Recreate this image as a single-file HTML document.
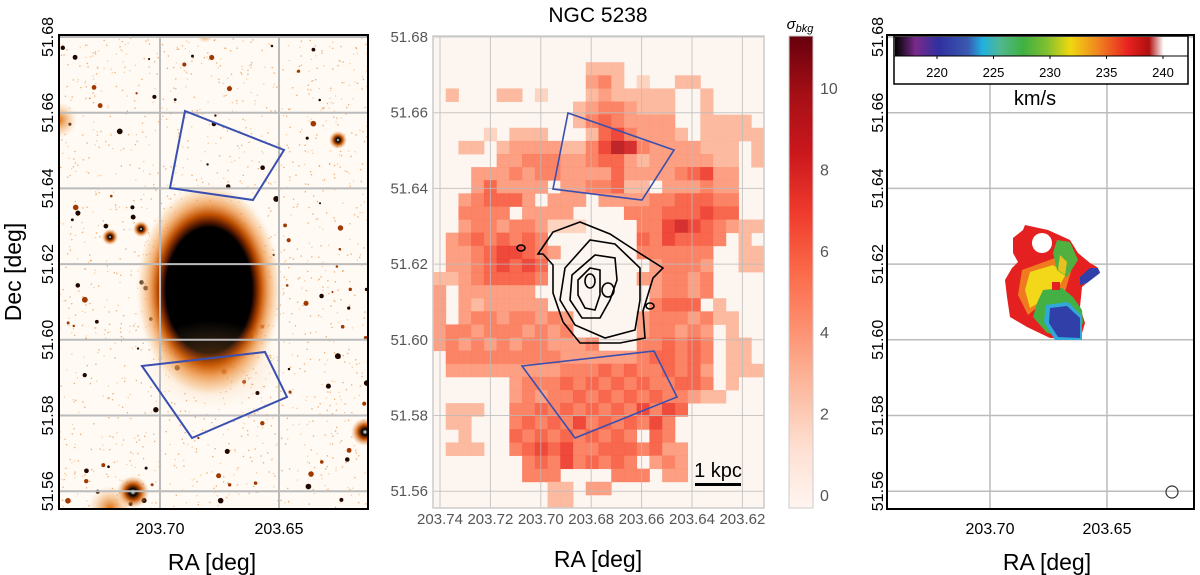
<!DOCTYPE html>
<html><head><meta charset="utf-8"><style>
html,body{margin:0;padding:0;background:#fff;}
svg{display:block;font-family:"Liberation Sans",sans-serif;}
</style></head><body>
<svg id="fig" width="1200" height="575" viewBox="0 0 1200 575" xmlns="http://www.w3.org/2000/svg">
<defs>
<radialGradient id="halo" cx="0.5" cy="0.5" r="0.5">
<stop offset="0" stop-color="#000"/><stop offset="0.58" stop-color="#000"/><stop offset="0.63" stop-color="#5a1a00"/><stop offset="0.7" stop-color="#c05000"/><stop offset="0.8" stop-color="#ec9040" stop-opacity="0.75"/><stop offset="0.92" stop-color="#f8c890" stop-opacity="0.4"/><stop offset="1" stop-color="#fff" stop-opacity="0"/>
</radialGradient>
<radialGradient id="starg"><stop offset="0" stop-color="#fff"/><stop offset="0.2" stop-color="#000"/><stop offset="0.5" stop-color="#c05000"/><stop offset="1" stop-color="#f0a050" stop-opacity="0"/></radialGradient>
<radialGradient id="blobg"><stop offset="0" stop-color="#e07010"/><stop offset="1" stop-color="#f8c080" stop-opacity="0"/></radialGradient>
<linearGradient id="redsbar" x1="0" y1="1" x2="0" y2="0">
<stop offset="0" stop-color="#fff5f0"/><stop offset="0.125" stop-color="#fee0d2"/><stop offset="0.25" stop-color="#fcbba1"/><stop offset="0.375" stop-color="#fc9272"/><stop offset="0.5" stop-color="#fb6a4a"/><stop offset="0.625" stop-color="#ef3b2c"/><stop offset="0.75" stop-color="#cb181d"/><stop offset="0.875" stop-color="#a50f15"/><stop offset="1" stop-color="#67000d"/>
</linearGradient>
<linearGradient id="velbar" x1="0" y1="0" x2="1" y2="0">
<stop offset="0" stop-color="#000"/><stop offset="0.07" stop-color="#7a2a8a"/><stop offset="0.15" stop-color="#3030a0"/><stop offset="0.25" stop-color="#3a5ab0"/><stop offset="0.3" stop-color="#20b0e0"/><stop offset="0.36" stop-color="#50b890"/><stop offset="0.44" stop-color="#40b040"/><stop offset="0.52" stop-color="#80c030"/><stop offset="0.6" stop-color="#f0d810"/><stop offset="0.7" stop-color="#f08020"/><stop offset="0.8" stop-color="#e82020"/><stop offset="0.87" stop-color="#b01010"/><stop offset="0.92" stop-color="#fff"/><stop offset="1" stop-color="#fff"/>
</linearGradient>
<clipPath id="clip1"><rect x="59" y="35" width="309" height="474"/></clipPath>
</defs>

<!-- PANEL 1 -->
<g id="p1">
<rect x="59" y="35" width="309" height="474" fill="#fffaf4"/>
<g id="speckle" clip-path="url(#clip1)"></g>
<g clip-path="url(#clip1)">
<ellipse cx="209" cy="290" rx="74" ry="108" fill="url(#halo)"/>
<ellipse cx="212" cy="365" rx="70" ry="45" fill="url(#blobg)" opacity="0.35"/>
<circle cx="59" cy="120" r="18" fill="url(#blobg)"/>
<circle cx="133" cy="492" r="16" fill="url(#starg)"/>
<circle cx="365" cy="432" r="14" fill="url(#starg)"/>
<circle cx="110" cy="508" r="22" fill="url(#blobg)"/>
<circle cx="110" cy="237" r="8" fill="url(#starg)"/>
<circle cx="141" cy="229" r="8" fill="url(#starg)"/>
<circle cx="338" cy="140" r="9" fill="url(#starg)"/>
<circle cx="205" cy="35" r="8" fill="url(#blobg)"/>
</g>
<g id="grid1"></g>
<polygon points="185,111 284,150 253,200 170,188" fill="none" stroke="#3a4fb0" stroke-width="2"/>
<polygon points="142,366 265,352 287,397 192,438" fill="none" stroke="#3a4fb0" stroke-width="2"/>
<rect x="59" y="35" width="309" height="474" fill="none" stroke="#000" stroke-width="2"/>
<g id="ticks1"></g>
<text x="212" y="570" font-size="23" text-anchor="middle">RA [deg]</text>
<text transform="translate(21,272) rotate(-90)" font-size="23" text-anchor="middle">Dec [deg]</text>
</g>

<!-- PANEL 2 -->
<g id="p2">
<text x="598" y="22" font-size="21" text-anchor="middle">NGC 5238</text>
<rect x="433" y="36" width="331" height="472" fill="#fdf5f0"/>
<g id="cells"></g>
<g id="grid2"></g>
<g fill="none" stroke="#000" stroke-width="1.6">
<path d="M538,254 L553,232 L580,222 L610,234 L633,249 L663,268 L653,278 L643,311 L645,338 L620,343 L580,343 L563,322 L553,293 L553,265 L543,254 Z"/>
<path d="M565,268 L590,240 L615,244 L640,268 L640,300 L635,330 L605,338 L575,325 L560,300 Z"/>
<path d="M572,275 L595,255 L615,258 L617,280 L610,300 L600,318 L582,318 L570,300 Z"/>
<path d="M578,280 L590,268 L600,270 L600,295 L595,310 L585,308 L578,295 Z"/>
<ellipse cx="590" cy="281" rx="5" ry="7"/>
<ellipse cx="608" cy="290" rx="6" ry="7"/>
<ellipse cx="650" cy="306" rx="4" ry="3"/>
<ellipse cx="521" cy="248" rx="4" ry="3"/>
</g>
<polygon points="568,113 674,150 642,200 553,189" fill="none" stroke="#3a4fb0" stroke-width="1.6"/>
<polygon points="522,366 654,351 677,397 575,438" fill="none" stroke="#3a4fb0" stroke-width="1.6"/>
<text x="718" y="477" font-size="20" text-anchor="middle">1 kpc</text>
<rect x="695" y="483" width="46" height="3" fill="#000"/>
<rect x="433" y="36" width="331" height="472" fill="none" stroke="#ccc" stroke-width="1.5"/>
<g id="ticks2"></g>
<text x="598" y="567" font-size="23" text-anchor="middle">RA [deg]</text>
<rect x="789" y="36" width="24" height="472" fill="url(#redsbar)" stroke="#ccc"/>
<g id="cbticks"></g>
<text x="800" y="29" font-size="15" font-style="italic" text-anchor="middle">σ<tspan font-size="11" dy="3">bkg</tspan></text>
</g>

<!-- PANEL 3 -->
<g id="p3">
<g id="grid3"></g>
<g>
<polygon fill="#e42020" points="1025,225 1048,230 1070,240 1078,253 1090,263 1097,267 1100,272 1090,280 1082,287 1080,307 1085,323 1080,340 1050,338 1027,327 1010,317 1007,297 1005,280 1012,268 1018,262 1013,253 1013,238 1023,230"/>
<polygon fill="#f07a20" points="1022,270 1055,258 1072,268 1065,292 1040,305 1028,315 1018,295"/>
<polygon fill="#f2d818" points="1030,272 1053,265 1066,274 1057,290 1040,302 1030,308 1025,290"/>
<polygon fill="#44b044" points="1043,290 1062,288 1073,297 1082,310 1083,323 1073,338 1047,333 1033,317 1037,303"/>
<polygon fill="#50b040" points="1057,240 1070,242 1078,260 1067,277 1057,270 1053,253"/>
<polygon fill="#e8c020" points="1060,255 1067,262 1065,275 1058,270"/>
<polygon fill="#30a8d8" points="1046,305 1068,302 1082,316 1082,340 1055,340 1044,322"/>
<polygon fill="#3040a8" points="1050,308 1067,306 1080,318 1080,338 1058,337 1049,323"/>
<polygon fill="#3040a8" points="1080,277 1090,268 1098,268 1100,273 1087,283 1080,285"/>
<circle cx="1042" cy="243" r="10" fill="#fff"/>
<rect x="1052" y="282" width="8" height="8" fill="#e42020"/>
</g>
<rect x="894" y="36" width="294" height="48" fill="#fff" stroke="#000" stroke-width="1.5"/>
<rect x="895" y="37" width="292" height="19" fill="url(#velbar)"/>
<line x1="894" y1="56" x2="1188" y2="56" stroke="#000" stroke-width="1"/>
<g id="vticks"></g>
<text x="1035" y="105" font-size="20" text-anchor="middle">km/s</text>
<circle cx="1172" cy="492" r="6" fill="none" stroke="#333" stroke-width="1.2"/>
<rect x="887" y="35" width="307" height="474" fill="none" stroke="#000" stroke-width="2"/>
<g id="ticks3"></g>
<text x="1047" y="570" font-size="23" text-anchor="middle">RA [deg]</text>
</g>
</svg>
<script>
const NS="http://www.w3.org/2000/svg";
// ---- data ----
const decTicks=[51.68,51.66,51.64,51.62,51.60,51.58,51.56];
const decLabels=["51.68","51.66","51.64","51.62","51.60","51.58","51.56"];
const raTicks1=[203.70,203.65];
const raLabels1=["203.70","203.65"];
const raTicks2=[203.74,203.72,203.70,203.68,203.66,203.64,203.62];
const raLabels2=["203.74","203.72","203.70","203.68","203.66","203.64","203.62"];
const sigmaTicks=[0,2,4,6,8,10];
const sigmaLabels=["0","2","4","6","8","10"];
const velTicks=[220,225,230,235,240];
const velLabels=["220","225","230","235","240"];
const sigmaRows=[
"00000000000000000000000000",
"00000000000000000000000000",
"00000000000033300000000000",
"00000000000045302003300000",
"03000330200034333330030000",
"00000000000345543330030000",
"00000000000356544440033330",
"00002033300036754443033333",
"00330344443357985444433303",
"00000445554456643444443303",
"00044454554444644445674400",
"00046444404455633044454400",
"00456664044404444556665500",
"00555504444000055566676600",
"00455455422200005578765433",
"04565656500000006576665030",
"04456776540000005555550033",
"04456767600000000455540033",
"33456666500000004455450000",
"40444444000000000455450000",
"40434444400000000566603000",
"40455455454000004555453300",
"45545554545000004554540300",
"45454545544450005565650330",
"05555555554444445665650330",
"04444444445556565565640333",
"00000045556565656556650300",
"00000045455656565655433000",
"03330055656565657576000000",
"03300056565756565750000000",
"00300065656565650650000000",
"03330056767556665644000000",
"00000005657565650454000000",
"00000005550000555044000000",
"00000000033044000000000000",
"00000000033000000000000000"];
// ---- scales ----
const yDec=d=>37+(51.68-d)/0.02*75.7;
const x1=r=>160+(203.70-r)/0.05*119;
const x2=r=>440+(203.74-r)/0.02*50.4;
const x3=r=>990+(203.70-r)/0.05*117;
const ySig=s=>495-s*40.7;
const xVel=v=>937+(v-220)*11.3;
function el(tag,attrs,parent,txt){const e=document.createElementNS(NS,tag);for(const k in attrs)e.setAttribute(k,attrs[k]);if(txt!==undefined)e.textContent=txt;parent.appendChild(e);return e;}
const $=id=>document.getElementById(id);
// speckle (decorative texture)
let seed=7;const rnd=()=>{seed=(seed*16807)%2147483647;return seed/2147483647;};
const sp=$('speckle');
for(let i=0;i<1600;i++){const x=59+rnd()*309,y=35+rnd()*474,r=rnd();
 el('rect',{x:x,y:y,width:1.3,height:1.3,fill:r<0.5?'#f4b070':'#e07a20',opacity:0.6},sp);}
for(let i=0;i<110;i++){const x=59+rnd()*309,y=35+rnd()*474;
 el('circle',{cx:x,cy:y,r:1+rnd()*2,fill:rnd()<0.5?'#200800':'#a03800'},sp);}
// grids & ticks panel 1
const g1=$('grid1'),t1=$('ticks1');
decTicks.forEach((d,i)=>{const y=yDec(d);
 const l=el('line',{x1:59,x2:368,y1:y,y2:y,stroke:'#bbb','stroke-width':2},g1);
 
 
 const t=el('text',{transform:`translate(53,${y}) rotate(-90)`,'font-size':16,'text-anchor':'middle'},t1,decLabels[i]);
 
 });
raTicks1.forEach((r,i)=>{const x=x1(r);
 el('line',{x1:x,x2:x,y1:35,y2:509,stroke:'#bbb','stroke-width':2},g1);
 const t=el('text',{x:x,y:534,'font-size':16,'text-anchor':'middle'},t1,raLabels1[i]);
 
 });
// heatmap panel 2
const stops=[[0,[255,245,240]],[0.125,[254,224,210]],[0.25,[252,187,161]],[0.375,[252,146,114]],[0.5,[251,106,74]],[0.625,[239,59,44]],[0.75,[203,24,29]],[0.875,[165,15,21]],[1,[103,0,13]]];
function reds(t){for(let i=1;i<stops.length;i++){if(t<=stops[i][0]){const a=stops[i-1],b=stops[i],f=(t-a[0])/(b[0]-a[0]);return 'rgb('+a[1].map((c,k)=>Math.round(c+(b[1][k]-c)*f)).join(',')+')';}}return 'rgb(103,0,13)';}
const cells=$('cells');const nR=sigmaRows.length,nC=sigmaRows[0].length;const cw=331/nC,ch=472/nR;
sigmaRows.forEach((row,ri)=>{for(let ci=0;ci<nC;ci++){const v=+row[ci];if(!v)continue;
 const c=el('rect',{x:433+ci*cw,y:36+ri*ch,width:cw+0.4,height:ch+0.4,fill:reds(v/11.1),opacity:0.92},cells);
 
 }});
const g2=$('grid2'),t2=$('ticks2');
decTicks.forEach((d,i)=>{const y=yDec(d);
 el('line',{x1:433,x2:764,y1:y,y2:y,stroke:'#bbb','stroke-width':1,opacity:0.8},g2);
 const t=el('text',{x:428,y:y+5,'font-size':15,fill:'#555','text-anchor':'end'},t2,decLabels[i]);
 
 });
raTicks2.forEach((r,i)=>{const x=x2(r);
 el('line',{x1:x,x2:x,y1:36,y2:508,stroke:'#bbb','stroke-width':1,opacity:0.8},g2);
 const t=el('text',{x:x,y:524,'font-size':15,fill:'#555','text-anchor':'middle'},t2,raLabels2[i]);
 
 });
const cb=$('cbticks');
sigmaTicks.forEach((s,i)=>{const y=ySig(s);
 const t=el('text',{x:820,y:y+6,'font-size':16,fill:'#555'},cb,sigmaLabels[i]);
 
 });
// panel 3
const g3=$('grid3'),t3=$('ticks3');
decTicks.forEach((d,i)=>{const y=yDec(d);
 el('line',{x1:887,x2:1194,y1:y,y2:y,stroke:'#bbb','stroke-width':1.5},g3);
 const t=el('text',{transform:`translate(883,${y}) rotate(-90)`,'font-size':16,'text-anchor':'middle'},t3,decLabels[i]);
 
 });
raTicks1.forEach((r,i)=>{const x=x3(r);
 el('line',{x1:x,x2:x,y1:35,y2:509,stroke:'#bbb','stroke-width':1.5},g3);
 const t=el('text',{x:x,y:534,'font-size':16,'text-anchor':'middle'},t3,raLabels1[i]);
 
 });
const vt=$('vticks');
velTicks.forEach((v,i)=>{const x=xVel(v);
 el('line',{x1:x,x2:x,y1:56,y2:59,stroke:'#000'},vt);
 const t=el('text',{x:x,y:77,'font-size':13,'text-anchor':'middle'},vt,velLabels[i]);
 
 });
</script>
</body></html>
